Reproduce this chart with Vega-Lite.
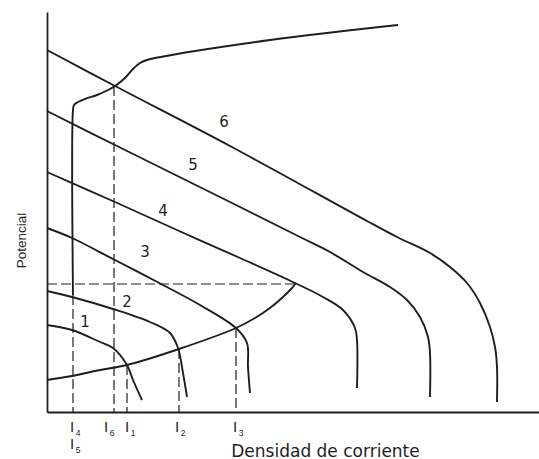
{
  "$schema": "https://vega.github.io/schema/vega-lite/v6.json",
  "width": 492,
  "height": 400,
  "autosize": {"type": "none"},
  "padding": {"left": 47, "top": 12, "right": 0, "bottom": 47},
  "background": "white",
  "config": {"view": {"stroke": null}, "font": "Liberation Sans"},
  "datasets": {
    "curvas": [
      {"curva": "6", "k": 0, "i": 0, "E": 362}, {"curva": "6", "k": 1, "i": 68, "E": 326}, {"curva": "6", "k": 2, "i": 183, "E": 266},
      {"curva": "6", "k": 3, "i": 320, "E": 191}, {"curva": "6", "k": 4, "i": 350, "E": 175}, {"curva": "6", "k": 5, "i": 383, "E": 159},
      {"curva": "6", "k": 6, "i": 403, "E": 145}, {"curva": "6", "k": 7, "i": 420, "E": 129}, {"curva": "6", "k": 8, "i": 433, "E": 109},
      {"curva": "6", "k": 9, "i": 443, "E": 85}, {"curva": "6", "k": 10, "i": 448, "E": 65}, {"curva": "6", "k": 11, "i": 450, "E": 45},
      {"curva": "6", "k": 12, "i": 450, "E": 10},

      {"curva": "5", "k": 0, "i": 0, "E": 301}, {"curva": "5", "k": 1, "i": 68, "E": 267}, {"curva": "5", "k": 2, "i": 183, "E": 210},
      {"curva": "5", "k": 3, "i": 253, "E": 175}, {"curva": "5", "k": 4, "i": 283, "E": 160}, {"curva": "5", "k": 5, "i": 316, "E": 140},
      {"curva": "5", "k": 6, "i": 343, "E": 125}, {"curva": "5", "k": 7, "i": 360, "E": 112}, {"curva": "5", "k": 8, "i": 373, "E": 95},
      {"curva": "5", "k": 9, "i": 381, "E": 75}, {"curva": "5", "k": 10, "i": 383, "E": 59}, {"curva": "5", "k": 11, "i": 383, "E": 15},

      {"curva": "4", "k": 0, "i": 0, "E": 240}, {"curva": "4", "k": 1, "i": 68, "E": 210}, {"curva": "4", "k": 2, "i": 130, "E": 182},
      {"curva": "4", "k": 3, "i": 193, "E": 154}, {"curva": "4", "k": 4, "i": 248, "E": 129}, {"curva": "4", "k": 5, "i": 276, "E": 115},
      {"curva": "4", "k": 6, "i": 296, "E": 102}, {"curva": "4", "k": 7, "i": 308, "E": 84}, {"curva": "4", "k": 8, "i": 310, "E": 72},
      {"curva": "4", "k": 9, "i": 310, "E": 24},

      {"curva": "3", "k": 0, "i": 0, "E": 184}, {"curva": "3", "k": 1, "i": 25, "E": 174}, {"curva": "3", "k": 2, "i": 66, "E": 153},
      {"curva": "3", "k": 3, "i": 116, "E": 127}, {"curva": "3", "k": 4, "i": 153, "E": 107}, {"curva": "3", "k": 5, "i": 189, "E": 84},
      {"curva": "3", "k": 6, "i": 200, "E": 69}, {"curva": "3", "k": 7, "i": 201, "E": 45}, {"curva": "3", "k": 8, "i": 203, "E": 19},

      {"curva": "2", "k": 0, "i": 0, "E": 121}, {"curva": "2", "k": 1, "i": 25, "E": 115}, {"curva": "2", "k": 2, "i": 66, "E": 103},
      {"curva": "2", "k": 3, "i": 103, "E": 90}, {"curva": "2", "k": 4, "i": 123, "E": 79}, {"curva": "2", "k": 5, "i": 131, "E": 64},
      {"curva": "2", "k": 6, "i": 136, "E": 39}, {"curva": "2", "k": 7, "i": 140, "E": 15},

      {"curva": "1", "k": 0, "i": 0, "E": 87}, {"curva": "1", "k": 1, "i": 25, "E": 82}, {"curva": "1", "k": 2, "i": 53, "E": 70},
      {"curva": "1", "k": 3, "i": 66, "E": 64}, {"curva": "1", "k": 4, "i": 80, "E": 47}, {"curva": "1", "k": 5, "i": 86, "E": 32},
      {"curva": "1", "k": 6, "i": 95, "E": 12},

      {"curva": "B", "k": 0, "i": 0, "E": 32}, {"curva": "B", "k": 1, "i": 25, "E": 36}, {"curva": "B", "k": 2, "i": 53, "E": 42},
      {"curva": "B", "k": 3, "i": 80, "E": 47}, {"curva": "B", "k": 4, "i": 132, "E": 63}, {"curva": "B", "k": 5, "i": 189, "E": 84},
      {"curva": "B", "k": 6, "i": 208, "E": 94}, {"curva": "B", "k": 7, "i": 223, "E": 104}, {"curva": "B", "k": 8, "i": 236, "E": 115},
      {"curva": "B", "k": 9, "i": 245, "E": 124}, {"curva": "B", "k": 10, "i": 249, "E": 129},

      {"curva": "A", "k": 0, "i": 26, "E": 117}, {"curva": "A", "k": 1, "i": 26, "E": 302}, {"curva": "A", "k": 2, "i": 27, "E": 307},
      {"curva": "A", "k": 3, "i": 31, "E": 310}, {"curva": "A", "k": 4, "i": 38, "E": 313}, {"curva": "A", "k": 5, "i": 50, "E": 317},
      {"curva": "A", "k": 6, "i": 61, "E": 322}, {"curva": "A", "k": 7, "i": 68, "E": 326}, {"curva": "A", "k": 8, "i": 78, "E": 334},
      {"curva": "A", "k": 9, "i": 86, "E": 343}, {"curva": "A", "k": 10, "i": 93, "E": 349}, {"curva": "A", "k": 11, "i": 100, "E": 352},
      {"curva": "A", "k": 12, "i": 108, "E": 354}, {"curva": "A", "k": 13, "i": 223, "E": 372}, {"curva": "A", "k": 14, "i": 351, "E": 387}
    ],
    "corrientes": [
      {"sub": "4", "i": 26, "E": 117, "base": 0, "etiqueta": 25},
      {"sub": "6", "i": 67, "E": 326, "base": 0, "etiqueta": 59},
      {"sub": "1", "i": 80, "E": 47, "base": 0, "etiqueta": 80},
      {"sub": "2", "i": 132, "E": 63, "base": 0, "etiqueta": 130},
      {"sub": "3", "i": 189, "E": 84, "base": 0, "etiqueta": 188}
    ],
    "numeros": [
      {"n": "1", "i": 38, "E": 90},
      {"n": "2", "i": 80, "E": 110},
      {"n": "3", "i": 98, "E": 160},
      {"n": "4", "i": 116, "E": 201},
      {"n": "5", "i": 146, "E": 247},
      {"n": "6", "i": 177, "E": 290}
    ]
  },
  "layer": [
    {
      "data": {"name": "curvas"},
      "mark": {"type": "line", "interpolate": "catmull-rom", "color": "#1e1e1e", "strokeWidth": 1.9},
      "encoding": {
        "x": {
          "field": "i", "type": "quantitative",
          "scale": {"domain": [0, 492], "nice": false, "zero": false},
          "axis": {
            "title": "Densidad de corriente", "labels": false, "ticks": false, "grid": false,
            "domainColor": "#1e1e1e", "domainWidth": 1.8,
            "titleFont": "DejaVu Sans", "titleFontSize": 17, "titleFontWeight": "normal", "titleColor": "#1e1e1e",
            "titleX": 278, "titleY": 44, "titleAlign": "center", "titleBaseline": "alphabetic"
          }
        },
        "y": {
          "field": "E", "type": "quantitative",
          "scale": {"domain": [0, 400], "nice": false, "zero": false},
          "axis": {
            "title": "Potencial", "labels": false, "ticks": false, "grid": false,
            "domainColor": "#1e1e1e", "domainWidth": 1.8,
            "titleFont": "Liberation Sans", "titleFontSize": 13.5, "titleFontWeight": "normal", "titleColor": "#1e1e1e",
            "titleX": -26, "titleY": 228, "titleAngle": -90, "titleAlign": "center", "titleBaseline": "middle"
          }
        },
        "detail": {"field": "curva", "type": "nominal"},
        "order": {"field": "k", "type": "quantitative"}
      }
    },
    {
      "data": {"name": "corrientes"},
      "mark": {"type": "rule", "color": "#1e1e1e", "strokeWidth": 1.2, "strokeDash": [10, 4]},
      "encoding": {
        "x": {"field": "i", "type": "quantitative"},
        "y": {"field": "E", "type": "quantitative"},
        "y2": {"field": "base"}
      }
    },
    {
      "data": {"values": [{"E": 128, "desde": 0, "hasta": 249}]},
      "mark": {"type": "rule", "color": "#1e1e1e", "strokeWidth": 1.1, "strokeDash": [10, 4]},
      "encoding": {
        "y": {"field": "E", "type": "quantitative"},
        "x": {"field": "desde", "type": "quantitative"},
        "x2": {"field": "hasta"}
      }
    },
    {
      "data": {"name": "numeros"},
      "mark": {"type": "text", "font": "DejaVu Sans", "fontSize": 15, "color": "#1e1e1e", "baseline": "middle", "align": "center"},
      "encoding": {
        "x": {"field": "i", "type": "quantitative"},
        "y": {"field": "E", "type": "quantitative"},
        "text": {"field": "n", "type": "nominal"}
      }
    },
    {
      "data": {"name": "corrientes"},
      "mark": {"type": "text", "font": "Liberation Sans", "fontSize": 15, "color": "#1e1e1e", "baseline": "middle", "align": "center", "text": "I"},
      "encoding": {
        "x": {"field": "etiqueta", "type": "quantitative"},
        "y": {"datum": -15, "type": "quantitative"}
      }
    },
    {
      "data": {"name": "corrientes"},
      "mark": {"type": "text", "font": "Liberation Sans", "fontSize": 8.5, "color": "#1e1e1e", "baseline": "middle", "align": "center", "dx": 6},
      "encoding": {
        "x": {"field": "etiqueta", "type": "quantitative"},
        "y": {"datum": -21, "type": "quantitative"}
      ,
        "text": {"field": "sub", "type": "nominal"}
      }
    },
    {
      "data": {"values": [{"sub": "5", "etiqueta": 25}]},
      "mark": {"type": "text", "font": "Liberation Sans", "fontSize": 15, "color": "#1e1e1e", "baseline": "middle", "align": "center", "text": "I"},
      "encoding": {
        "x": {"field": "etiqueta", "type": "quantitative"},
        "y": {"datum": -31.5, "type": "quantitative"}
      }
    },
    {
      "data": {"values": [{"sub": "5", "etiqueta": 25}]},
      "mark": {"type": "text", "font": "Liberation Sans", "fontSize": 8.5, "color": "#1e1e1e", "baseline": "middle", "align": "center", "dx": 6},
      "encoding": {
        "x": {"field": "etiqueta", "type": "quantitative"},
        "y": {"datum": -38, "type": "quantitative"},
        "text": {"field": "sub", "type": "nominal"}
      }
    }
  ]
}
